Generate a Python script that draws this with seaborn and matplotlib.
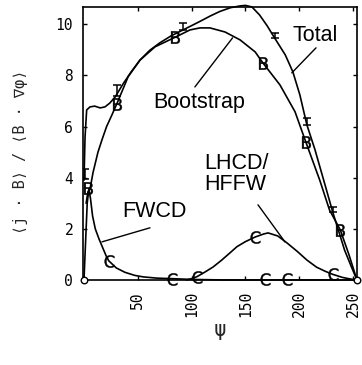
import numpy as np
import pandas as pd
import matplotlib
matplotlib.use("Agg")
import matplotlib.pyplot as plt
import seaborn as sns

# ---- curve samples (psi, <j.B>/<B.grad phi>) ----
total_psi = [0, 1.0, 2.5, 5.6, 10, 15, 19.5, 24, 29, 36, 44, 52, 61, 70.6, 81, 92,
             100, 108, 117, 126, 136, 145, 150, 156, 163, 170, 177, 187, 194,
             200.5, 207, 214.5, 224, 231, 237, 242, 248, 253.5]
total_val = [3.9, 5.6, 6.65, 6.77, 6.8, 6.73, 6.77, 6.92, 7.16, 7.65, 8.15, 8.6, 8.98, 9.28,
             9.55, 9.78, 9.95, 10.12, 10.32, 10.5, 10.65, 10.72, 10.74, 10.68, 10.37, 9.95,
             9.47, 8.8, 8.14, 7.24, 6.07, 5.1, 3.7, 2.66, 1.85, 1.17, 0.55, 0.0]

boot_psi = [2, 3.7, 5.6, 8.4, 13, 16.7, 21, 26, 30.6, 41, 52, 66, 85, 98.4, 107.7,
            117, 131, 145, 159, 166, 182, 196, 206, 219, 228, 238, 246, 253.5]
boot_val = [3.0, 3.45, 3.55, 4.2, 5.0, 5.48, 6.0, 6.46, 6.9, 7.95, 8.6, 9.12, 9.5, 9.78,
            9.86, 9.86, 9.7, 9.39, 8.92, 8.5, 7.63, 6.58, 5.4, 3.9, 2.74, 1.96, 1.0, 0.0]

fwcd_psi = [0, 1.5, 3, 4.5, 6, 8, 10.5, 14, 17, 20.5, 23, 30, 38, 47, 55, 68, 82,
            100, 130, 168, 189, 220, 253.5]
fwcd_val = [0.0, 1.5, 3.0, 3.55, 3.2, 2.5, 2.0, 1.6, 1.3, 0.95, 0.75, 0.47, 0.3, 0.18,
            0.12, 0.07, 0.05, 0.02, 0.0, 0.0, 0.0, 0.0, 0.0]

lhcd_psi = [95, 100, 105, 112, 120, 128, 135.6, 142, 150, 159, 167, 171, 180, 188.5,
            198, 207, 216, 224, 231, 240, 247, 253.5]
lhcd_val = [0.0, 0.05, 0.13, 0.3, 0.51, 0.78, 1.06, 1.3, 1.5, 1.68, 1.8, 1.84, 1.72,
            1.45, 1.12, 0.78, 0.5, 0.34, 0.22, 0.1, 0.04, 0.0]

# ---- marked points ----
total_mark_psi = [0.5, 31, 92, 177, 207, 231]
total_mark_val = [3.95, 7.2, 9.78, 9.47, 6.07, 2.66]
total_err_up = [0.4, 0.43, 0.27, 0.2, 0.27, 0.2]

boot_mark_psi = [3.7, 30.6, 85, 166, 206, 238]
boot_mark_val = [3.6, 6.9, 9.5, 8.5, 5.4, 1.96]

fwcd_mark_psi = [23, 82, 168, 189]
fwcd_mark_val = [0.75, 0.05, 0.05, 0.05]

lhcd_mark_psi = [105, 159, 231]
lhcd_mark_val = [0.13, 1.68, 0.22]

end_mark_psi = [0, 253.5]
end_mark_val = [0.0, 0.0]

x_ticks = [50, 100, 150, 200, 250]
y_ticks = [0, 2, 4, 6, 8, 10]

sns.set_theme(style="ticks")
plt.rcParams["font.family"] = ["DejaVu Sans Mono", "DejaVu Sans"]

fig = plt.figure(figsize=(3.62, 3.65), dpi=100)
ax = fig.add_axes([0.229, 0.233, 0.757, 0.748])

curves = [(total_psi, total_val), (boot_psi, boot_val),
          (fwcd_psi, fwcd_val), (lhcd_psi, lhcd_val)]
for xs, ys in curves:
    df = pd.DataFrame({"psi": xs, "val": ys})
    sns.lineplot(data=df, x="psi", y="val", color="black", lw=1.2,
                 sort=False, estimator=None, ax=ax, clip_on=False)

# total: error-bar style markers
ax.errorbar(total_mark_psi, total_mark_val,
            yerr=[np.zeros(len(total_err_up)), total_err_up],
            fmt="none", ecolor="black", elinewidth=1.1, capsize=3, capthick=1.1)

def letter_marks(xs, ys, mk, s):
    df = pd.DataFrame({"psi": xs, "val": ys})
    sns.scatterplot(data=df, x="psi", y="val", marker=mk, s=s, color="black",
                    edgecolor="black", linewidth=0.3, ax=ax, clip_on=False,
                    zorder=5)

letter_marks(boot_mark_psi, boot_mark_val, r"$\mathrm{B}$", 80)
letter_marks(fwcd_mark_psi, fwcd_mark_val, r"$\mathrm{C}$", 80)
letter_marks(lhcd_mark_psi, lhcd_mark_val, r"$\mathrm{C}$", 80)
ax.scatter(end_mark_psi, end_mark_val, s=22, facecolors="white",
           edgecolors="black", linewidths=1.0, zorder=6, clip_on=False)

# curve labels with pointer lines
lab_font = dict(family="Liberation Sans", fontsize=15.5, color="black")
line_kw = dict(arrowstyle="-", color="black", lw=1.0, shrinkA=0, shrinkB=0)
ax.annotate("", xy=(193, 8.1), xytext=(215.5, 9.08), arrowprops=line_kw)
ax.text(215, 9.55, "Total", ha="center", va="center", **lab_font)
ax.annotate("", xy=(138, 9.47), xytext=(103, 7.55), arrowprops=line_kw)
ax.text(107, 6.95, "Bootstrap", ha="center", va="center", **lab_font)
ax.annotate("", xy=(186.6, 1.49), xytext=(161.6, 2.94), arrowprops=line_kw)
ax.text(112, 4.15, "LHCD/\nHFFW", ha="left", va="center", linespacing=1.0,
        **lab_font)
ax.annotate("", xy=(16.7, 1.49), xytext=(61.3, 2.04), arrowprops=line_kw)
ax.text(65.5, 2.68, "FWCD", ha="center", va="center", **lab_font)

ax.set_xlim(-1, 253.5)
ax.set_ylim(0, 10.68)
ax.set_xticks(x_ticks)
ax.set_yticks(y_ticks)
ax.set_xticklabels([str(v) for v in x_ticks], rotation=90)
ax.set_yticklabels([str(v) for v in y_ticks])
ax.tick_params(direction="in", length=3, width=1.0, top=True, right=True,
               labelsize=10.5, colors="black")
ax.tick_params(axis="y", pad=7)
ax.tick_params(axis="x", pad=8)
for sp in ax.spines.values():
    sp.set_visible(True)
    sp.set_linewidth(1.2)
    sp.set_color("black")

ax.set_xlabel("ψ", fontsize=15, labelpad=2)
ax.set_ylabel("⟨j · B⟩ / ⟨B · ∇φ⟩", fontsize=11)
ax.yaxis.set_label_coords(-0.2, 0.47)

fig.savefig("out.png", dpi=100, facecolor="white")
